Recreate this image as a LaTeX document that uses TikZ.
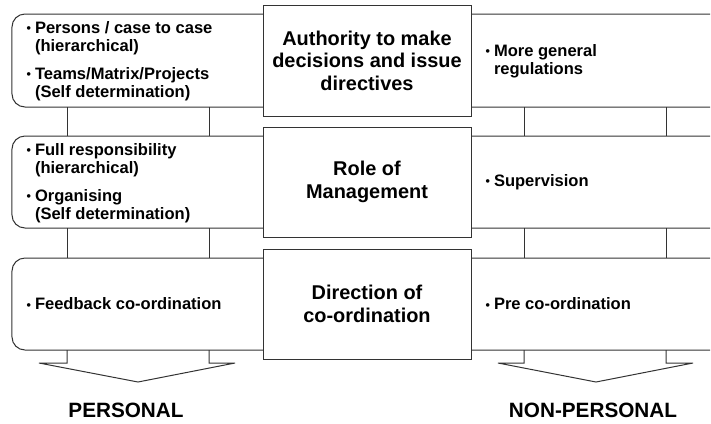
\documentclass[tikz,border=0pt]{standalone}
\usepackage{fontspec}
\setmainfont{Liberation Sans}
\usetikzlibrary{calc}
\definecolor{lin}{HTML}{333333}
\newcommand{\bul}{\makebox[8.5bp][l]{\raisebox{0.8bp}{\fontsize{12.5}{12}\selectfont •}}}
\newcommand{\nob}{\hspace*{8.5bp}}
\begin{document}
\begin{tikzpicture}[x=1bp,y=-1bp,
  line width=1bp,
  sidebox/.style={draw=lin, rounded corners=13bp, minimum width=278bp, inner sep=0pt, outer sep=0pt},
  rightbox/.style={draw=lin, rounded corners=13bp, minimum width=310bp, inner sep=0pt, outer sep=0pt},
  midbox/.style={draw=lin, fill=white, minimum width=208bp, minimum height=110bp, inner sep=0pt, outer sep=0pt,
     align=center, font=\fontsize{20}{22.5}\selectfont\bfseries},
  itemtext/.style={anchor=west, inner sep=0pt, align=left, font=\fontsize{16.6}{18.2}\selectfont\bfseries},
  bigtext/.style={inner sep=0pt, font=\fontsize{20.8}{24}\selectfont\bfseries},
  conn/.style={draw=lin, line width=1bp},
  chevron/.style={draw=lin, line width=1bp, line join=miter}
]
\useasboundingbox (0,0) rectangle (711,423);
\begin{scope}
\clip (0,0) rectangle (710,423);
% left boxes
\node[sidebox, minimum height=93bp] (l1) at (151,60.5) {};
\node[sidebox, minimum height=92bp] (l2) at (151,182) {};
\node[sidebox, minimum height=92bp] (l3) at (151,304) {};
% right boxes
\node[rightbox, minimum height=93bp] (r1) at (605,60.5) {};
\node[rightbox, minimum height=92bp] (r2) at (605,182) {};
\node[rightbox, minimum height=92bp] (r3) at (605,304) {};
\end{scope}
% center boxes
\node[midbox, minimum height=111bp] (c1) at (367,60.5) {Authority to make\\decisions and issue\\directives};
\node[midbox] (c2) at (367,182) {Role of\\Management};
\node[midbox] (c3) at (367,304) {Direction of\\co-ordination};
% texts
\node[itemtext] (t1) at (26,61) {\bul Persons / case to case\\\nob(hierarchical)\\[9.5bp]\bul Teams/Matrix/Projects\\\nob(Self determination)};
\node[itemtext] (t2) at (26,183) {\bul Full responsibility\\\nob(hierarchical)\\[9.5bp]\bul Organising\\\nob(Self determination)};
\node[itemtext] (t3) at (26,304) {\bul Feedback co-ordination};
\node[itemtext] (s1) at (485,61) {\bul More general\\\nob regulations};
\node[itemtext] (s2) at (485,182) {\bul Supervision};
\node[itemtext] (s3) at (485,304) {\bul Pre co-ordination};
% x positions of connectors
\coordinate (xa) at (67,0);
\coordinate (xb) at (209,0);
\coordinate (xc) at (524,0);
\coordinate (xd) at (666,0);
\foreach \x in {xa,xb} {
  \draw[conn] (l1.south -| \x) -- (l2.north -| \x);
  \draw[conn] (l2.south -| \x) -- (l3.north -| \x);
}
\foreach \x in {xc,xd} {
  \draw[conn] (r1.south -| \x) -- (r2.north -| \x);
  \draw[conn] (r2.south -| \x) -- (r3.north -| \x);
}
% chevron arrows
\coordinate (tipl) at (138,382);
\coordinate (tipr) at (596,382);
\draw[chevron] (l3.south -| xa) -- ++(0,13) -- ++(-28,0) -- (tipl) -- (235,363) -- ($(l3.south -| xb)+(0,13)$) -- (l3.south -| xb);
\draw[chevron] (r3.south -| xc) -- ++(0,13) -- ++(-26,0) -- (tipr) -- (693,363) -- ($(r3.south -| xd)+(0,13)$) -- (r3.south -| xd);
% labels
\node[bigtext] (p1) at (126,410) {PERSONAL};
\node[bigtext] (p2) at (593,410) {NON-PERSONAL};
\end{tikzpicture}
\end{document}
